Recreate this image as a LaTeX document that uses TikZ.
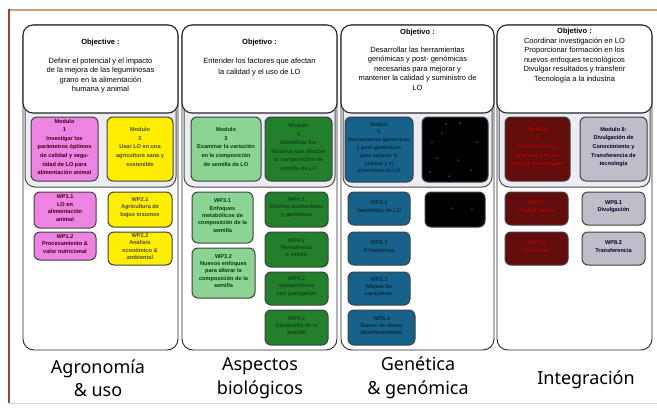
\documentclass[tikz,border=0pt]{standalone}
\usepackage{fontspec}
\setmainfont{Liberation Sans}
\newfontfamily\labelfont{Noto Sans}
\usetikzlibrary{fit}
\definecolor{pinkm}{RGB}{238,132,226}
\definecolor{yellowm}{RGB}{255,238,0}
\definecolor{lgreen}{RGB}{140,212,148}
\definecolor{dgreen}{RGB}{34,128,44}
\definecolor{bluem}{RGB}{22,98,138}
\definecolor{redm}{RGB}{98,12,12}
\definecolor{greym}{RGB}{190,190,200}
\definecolor{grp}{RGB}{236,236,244}
\definecolor{frameb}{RGB}{150,70,55}
\definecolor{framet}{RGB}{205,160,130}
\begin{document}
\begin{tikzpicture}[x=1pt,y=-1pt,
  colbox/.style={draw=black!85, line width=0.9pt, rounded corners=11pt, fill=white},
  objbox/.style={draw=black!85, line width=1.1pt, rounded corners=10pt, fill=white},
  grpbox/.style={draw=black!70, line width=1pt, rounded corners=10pt, fill=grp},
  modbox/.style={draw=black!75, line width=1pt, rounded corners=6pt, inner sep=0pt, align=center,
    font=\bfseries\fontsize{5.6}{8.6}\selectfont},
  wpbox/.style={modbox, font=\bfseries\fontsize{5.6}{7.4}\selectfont},
  objtxt/.style={anchor=north, align=center, inner sep=0pt, font=\fontsize{7.5}{9.5}\selectfont},
  lbl/.style={align=center, font=\labelfont\fontsize{18}{23.5}\selectfont},
  speck/.style={fill=white, draw=none}]
\useasboundingbox (0,0) rectangle (657,410);
% frame
\draw[framet, line width=2.5pt] (9,10) -- (657,10);
\draw[frameb, line width=2pt] (9,9) -- (9,403);
\draw[black!15, line width=0.8pt] (9,403) -- (657,403);
% columns
\foreach \a/\b in {23/178, 182/337, 341/494, 497/652}{
  \draw[colbox] (\a,25) rectangle (\b,350);
  \draw[grpbox] (\a+2,100) rectangle (\b-2,187);
  \draw[objbox] (\a,25) rectangle (\b,113);
}
% objective texts
\node[objtxt] (t1) at (100.5,39) {\textbf{Objective :}\\[9pt]
  Definir el potencial  y el impacto\\ de la mejora de las leguminosas\\ grano en la alimentación\\ humana y animal};
\node[objtxt] (t2) at (259.5,39) {\textbf{Objetivo :}\\[9pt]
  Entender los factores que afectan\\[2pt] la calidad y el uso de  LO};
\node[objtxt] (t3) at (417.5,29) {\textbf{Objetivo :}\\[8pt]
  Desarrollar las herramientas\\ genómicas y post- genómicas\\ necesarias para mejorar y\\ mantener la calidad y suministro de\\ LO};
\node[objtxt] (t4) at (574.5,28) {\textbf{Objetivo :}\\
  Coordinar  investigación en LO\\ Proporcionar formación en los\\ nuevos enfoques tecnológicos\\ Divulgar resultados y transferir\\ Tecnología a la industria};
% modules
\node[modbox, fill=pinkm, text=black!70!purple, fit={(31,117) (98,181)}] (m1)
  {Modulo\\1\\Investigar los\\parámetros óptimos\\de calidad y segu-\\ridad de LO para\\alimentación animal};
\node[modbox, fill=yellowm, text=black!80!yellow, fit={(107,117) (173,181)}] (m2)
  {Modulo\\2\\Usar LO en una\\agricultura sana y\\sostenible};
\node[modbox, fill=lgreen, text=black!75!green, fit={(191,117) (261,181)}] (m3)
  {Modulo\\3\\Examinar la variación\\en la composición\\de semilla de LO};
\node[modbox, fill=dgreen, text=black!45!dgreen, fit={(265,117) (332,181)}] (m4)
  {Modulo\\4\\Identificar los\\factores que afectan\\la composición de\\semilla de LO};
\node[modbox, fill=bluem, text=black!55!bluem, font=\bfseries\fontsize{5.2}{7.8}\selectfont, fit={(345,117) (413,182)}] (m5)
  {Modulo\\5\\Herramientas genómicas\\y post-genómicas\\para mejorar la\\calidad y el\\suministro de LO};
\node[modbox, fill=black, fit={(422,117) (488,182)}] (m6) {};
\node[modbox, fill=redm, text=red!45!redm, fit={(505,117) (570,181)}] (m7)
  {Modulo\\7\\Coordinación y\\formación en las\\nuevas tecnologías};
\node[modbox, fill=greym, text=black!85!blue, fit={(580,117) (647,181)}] (m8)
  {Modulo 8:\\Divulgación de\\Conocimiento y\\Transferencia de\\tecnología};
% work packages
\node[wpbox, fill=pinkm, text=black!70!purple, fit={(34,192) (96,228)}] (w11) {WP1.1\\LO en\\alimentación\\animal};
\node[wpbox, fill=pinkm, text=black!70!purple, fit={(34,232) (96,260)}] (w12) {WP1.2\\Procesamiento \&\\valor nutricional};
\node[wpbox, fill=yellowm, text=black!80!yellow, fit={(108,192) (172,227)}] (w21) {WP2.1\\Agricultura de\\bajos insumos};
\node[wpbox, fill=yellowm, text=black!80!yellow, fit={(108,232) (172,265)}] (w22) {WP2.2\\Análisis\\económico \&\\ambiental};
\node[wpbox, fill=lgreen, text=black!75!green, fit={(192,192) (253,243)}] (w31) {WP3.1\\Enfoques\\metabólicos de\\composición de la\\semilla};
\node[wpbox, fill=lgreen, text=black!75!green, fit={(192,248) (255,298)}] (w32) {WP3.2\\Nuevos enfoques\\para alterar la\\composición de la\\semilla};
\node[wpbox, fill=dgreen, text=black!45!dgreen, fit={(265,192) (328,227)}] (w41) {WP4.1\\Efectos ambientales\\y genéticos};
\node[wpbox, fill=dgreen, text=black!45!dgreen, fit={(265,232) (328,267)}] (w42) {WP4.2\\Resistencia\\a estrés};
\node[wpbox, fill=dgreen, text=black!45!dgreen, fit={(265,272) (328,305)}] (w43) {WP4.3\\Interacciones\\con patógenos};
\node[wpbox, fill=dgreen, text=black!45!dgreen, fit={(265,310) (328,345)}] (w44) {WP4.4\\Desarrollo de la\\semilla};
\node[wpbox, fill=bluem, text=black!55!bluem, fit={(348,192) (410,225)}] (w51) {WP5.1\\Genómica de LO};
\node[wpbox, fill=black, fit={(425,192) (485,227)}] (w61) {};
\node[wpbox, fill=bluem, text=black!55!bluem, fit={(348,232) (410,265)}] (w52) {WP5.2\\Proteómica};
\node[wpbox, fill=bluem, text=black!55!bluem, fit={(348,272) (410,305)}] (w53) {WP5.3\\Mapeo de\\caracteres};
\node[wpbox, fill=bluem, text=black!55!bluem, fit={(348,310) (415,345)}] (w54) {WP5.4\\Bases de datos\\bioinformáticas};
\node[wpbox, fill=redm, text=red!45!redm, fit={(505,192) (568,225)}] (w71) {WP7.1\\Coordinación};
\node[wpbox, fill=redm, text=red!45!redm, fit={(505,232) (568,265)}] (w72) {WP7.2\\Formación};
\node[wpbox, fill=greym, text=black!85!blue, fit={(582,192) (645,225)}] (w81) {WP8.1\\Divulgación};
\node[wpbox, fill=greym, text=black!85!blue, fit={(582,232) (645,265)}] (w82) {WP8.2\\Transferencia};
% specks on the black boxes
\foreach \x/\y in {446/124, 460/123, 432/142, 477/142, 437/158, 458/160, 471/170, 430/172, 449/176, 442/133}
  \fill[speck] (\x,\y) circle (0.5);
\foreach \x/\y in {452/208, 472/209}
  \fill[speck] (\x,\y) circle (0.5);
% column labels
\node[lbl] (l1) at (98,378) {Agronomía\\\& uso};
\node[lbl] (l2) at (260,378) {Aspectos\\biológicos};
\node[lbl] (l3) at (418,378) {Genética\\\& genómica};
\node[lbl] (l4) at (586,380) {Integración};
\end{tikzpicture}
\end{document}
